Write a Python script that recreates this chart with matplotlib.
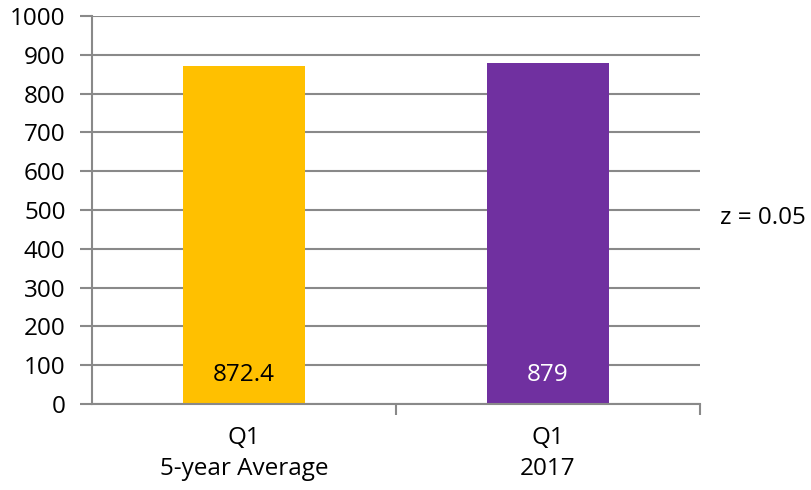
import matplotlib.pyplot as plt

plt.rcParams['font.family'] = ['Open Sans', 'DejaVu Sans']

# --- Data ---
categories = ['Q1\n5-year Average', 'Q1\n2017']
values = [872.4, 879]
value_labels = ['872.4', '879']
bar_colors = ['#FFC000', '#7030A0']
label_colors = ['black', 'white']
note = 'z = 0.05'
# ------------

GRID = '#898989'
FS = 17.5

fig = plt.figure(figsize=(8.11, 4.90), dpi=100)
ax = fig.add_axes([92 / 811, 1 - 404 / 490, 608 / 811, 388 / 490])

x = range(len(categories))
ax.bar(x, values, width=0.4, color=bar_colors, zorder=2)

for i, (v, lab, c) in enumerate(zip(values, value_labels, label_colors)):
    ax.annotate(lab, (i, 0), xytext=(0, 21), textcoords='offset points',
                ha='center', va='center', fontsize=FS, color=c, zorder=3)

ax.set_xlim(-0.5, len(categories) - 0.5)
ax.set_ylim(0, 1000)
ax.set_yticks(range(0, 1001, 100))

# category labels sit between the boundary ticks
ax.set_xticks([0.5, 1.5])
ax.set_xticklabels([])
ax.set_xticks(list(x), minor=True)
ax.set_xticklabels(categories, minor=True, fontsize=FS, linespacing=1.35)
ax.tick_params(axis='x', which='minor', length=0, pad=16)
ax.tick_params(axis='x', which='major', length=8, width=1.5, color=GRID)
ax.tick_params(axis='y', length=9, width=1.5, color=GRID, labelsize=FS, pad=10)

ax.grid(axis='y', color=GRID, linewidth=1.5, zorder=0)
ax.set_axisbelow(True)
for side in ['top', 'right']:
    ax.spines[side].set_visible(False)
for side in ['left', 'bottom']:
    ax.spines[side].set_color(GRID)
    ax.spines[side].set_linewidth(1.5)

fig.text(720 / 811, 1 - 218 / 490, note, fontsize=FS, va='center', ha='left')

fig.savefig('out.png', dpi=100)
